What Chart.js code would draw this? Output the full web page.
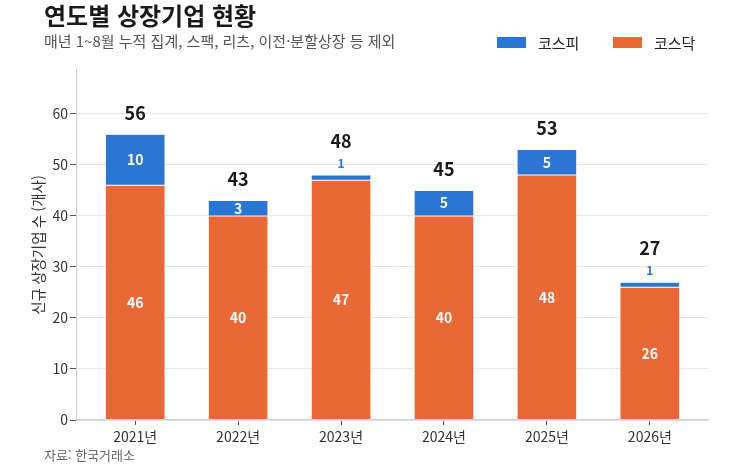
<!DOCTYPE html>
<html lang="ko">
<head>
<meta charset="utf-8">
<script src="https://cdn.jsdelivr.net/npm/chart.js@4"></script>
<style>
  html, body { margin: 0; padding: 0; background: #fff; }
  body { width: 730px; height: 475px; position: relative; overflow: hidden;
         font-family: "Noto Sans CJK KR", "Noto Sans", sans-serif; }
  #chart-wrap { position: absolute; left: 0; top: 0; width: 730px; height: 475px; }
  .title { position: absolute; left: 44px; top: -3px; font-size: 24px; font-weight: 700; color: #1a1a1a; }
  .subtitle { position: absolute; left: 44px; top: 30px; font-size: 15px; color: #555; }
  .source { position: absolute; left: 44px; top: 445px; font-size: 13px; color: #666; }
  .legend { position: absolute; top: 32px; font-size: 15px; color: #222; display: flex; align-items: center; }
  .legend span.box { display: inline-block; width: 29px; height: 11px; margin-right: 12px; }
</style>
</head>
<body>
<div id="chart-wrap"><canvas id="listingChart"></canvas></div>
<div class="title">연도별 상장기업 현황</div>
<div class="subtitle">매년 1~8월 누적 집계, 스팩, 리츠, 이전·분할상장 등 제외</div>
<div class="legend" style="left:497px"><span class="box" style="background:#2B76D2"></span>코스피</div>
<div class="legend" style="left:613px"><span class="box" style="background:#E96835"></span>코스닥</div>
<div class="source">자료: 한국거래소</div>

<script>
// 연도별 신규 상장기업 수 (1~8월)
const years = ["2021년", "2022년", "2023년", "2024년", "2025년", "2026년"];
const kosdaq = [46, 40, 47, 40, 48, 26];
const kospi = [10, 3, 1, 5, 5, 1];
const yTicks = [0, 10, 20, 30, 40, 50, 60];

const colors = {
    kospi: "#2B76D2",
    kosdaq: "#E96835",
    grid: "#e8e6e1",
    axis: "#cfcfcf",
    tick: "#555",
    text: "#333"
};

// labels inside / on top of the stacked bars
const barLabels = {
    id: "barLabels",
    afterDatasetsDraw(chart) {
        const ctx = chart.ctx;
        const metaQ = chart.getDatasetMeta(0);
        const metaP = chart.getDatasetMeta(1);
        ctx.save();
        ctx.textAlign = "center";
        ctx.textBaseline = "middle";
        years.forEach((y, i) => {
            const q = metaQ.data[i];
            const p = metaP.data[i];
            ctx.font = "bold 14px 'Noto Sans CJK KR', sans-serif";
            ctx.fillStyle = "#fff";
            ctx.fillText(kosdaq[i], q.x, (q.y + q.base) / 2);
            let topOffset = 21;
            if (kospi[i] >= 3) {
                ctx.fillText(kospi[i], p.x, (p.y + p.base) / 2);
            } else {
                ctx.fillStyle = colors.kospi;
                ctx.font = "bold 12px 'Noto Sans CJK KR', sans-serif";
                ctx.fillText(kospi[i], p.x, p.y - 12);
                topOffset = 34;
            }
            ctx.fillStyle = "#1a1a1a";
            ctx.font = "bold 18px 'Noto Sans CJK KR', sans-serif";
            ctx.fillText(kosdaq[i] + kospi[i], p.x, p.y - topOffset);
        });
        ctx.restore();
    }
};

const toPoints = arr => arr.map((v, i) => ({ x: i, y: v }));

new Chart(document.getElementById("listingChart"), {
    type: "bar",
    data: {
        datasets: [
            { label: "코스닥", data: toPoints(kosdaq), backgroundColor: colors.kosdaq,
              borderColor: "rgba(255,255,255,0.5)", borderWidth: 0.5, borderSkipped: false,
              barPercentage: 0.58, categoryPercentage: 1 },
            { label: "코스피", data: toPoints(kospi), backgroundColor: colors.kospi,
              borderColor: "rgba(255,255,255,0.5)", borderWidth: 0.5, borderSkipped: false,
              barPercentage: 0.58, categoryPercentage: 1 }
        ]
    },
    options: {
        responsive: true,
        maintainAspectRatio: false,
        animation: false,
        layout: { padding: { left: 20, top: 70, right: 22, bottom: 25 } },
        plugins: { legend: { display: false }, tooltip: { enabled: false } },
        scales: {
            x: {
                type: "linear",
                stacked: true,
                offset: false,
                min: -0.565,
                max: 5.565,
                afterFit: s => { s.height = 30; },
                afterBuildTicks: s => { s.ticks = years.map((y, i) => ({ value: i })); },
                grid: { offset: false, drawOnChartArea: false, tickLength: 5, tickColor: colors.tick },
                border: { color: colors.axis, width: 1.2 },
                ticks: {
                    padding: 3,
                    color: colors.text,
                    font: { size: 14, family: "'Noto Sans CJK KR', sans-serif" },
                    callback: v => years[v]
                }
            },
            y: {
                stacked: true,
                min: 0,
                max: 68.6,
                afterFit: s => { s.width = 57; },
                afterBuildTicks: s => { s.ticks = yTicks.map(v => ({ value: v })); },
                grid: { color: colors.grid, tickLength: 7, tickColor: colors.tick },
                border: { color: colors.axis, width: 1.2 },
                ticks: {
                    padding: 2,
                    color: colors.text,
                    font: { size: 14, family: "'Noto Sans CJK KR', sans-serif" }
                },
                title: {
                    display: true,
                    text: "신규 상장기업 수 (개사)",
                    color: colors.text,
                    padding: { top: 10 },
                    font: { size: 14.5, family: "'Noto Sans CJK KR', sans-serif" }
                }
            }
        }
    },
    plugins: [barLabels]
});
</script>
</body>
</html>
